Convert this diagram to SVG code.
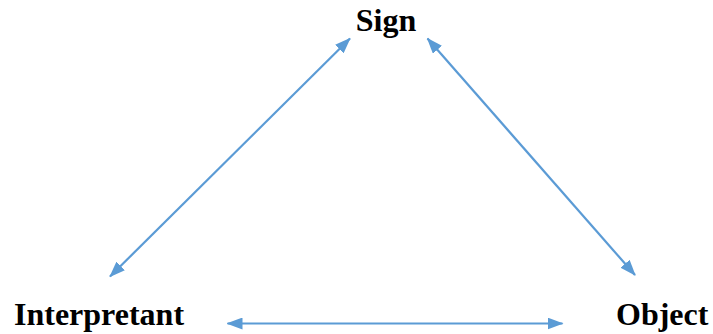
<svg xmlns="http://www.w3.org/2000/svg" width="713" height="334" viewBox="0 0 713 334">
<style>
.lbl{font-family:"Liberation Serif","Times New Roman",serif;font-weight:bold;font-size:32px;fill:#000}
.c{stroke:#5B9BD5;stroke-width:2.2;fill:none;marker-start:url(#ah);marker-end:url(#ah)}
</style>
<defs>
<marker id="ah" markerUnits="userSpaceOnUse" markerWidth="16" markerHeight="12" viewBox="0 0 16 12" refX="15" refY="6" orient="auto-start-reverse">
<path d="M0,0 L16,6 L0,12 Z" fill="#5B9BD5"/>
</marker>
</defs>
<rect width="713" height="334" fill="#fff"/>
<g id="sign"><text class="lbl" x="386" y="31" text-anchor="middle">Sign</text></g>
<g id="interpretant"><text class="lbl" x="14" y="325">Interpretant</text></g>
<g id="object"><text class="lbl" x="616" y="325">Object</text></g>
<g id="connectors">
<line class="c" x1="110" y1="276.5" x2="350" y2="38.5"/>
<line class="c" x1="427.5" y1="38.5" x2="635" y2="275"/>
<line class="c" x1="227.5" y1="323.5" x2="562.5" y2="323.5"/>
</g>
</svg>
